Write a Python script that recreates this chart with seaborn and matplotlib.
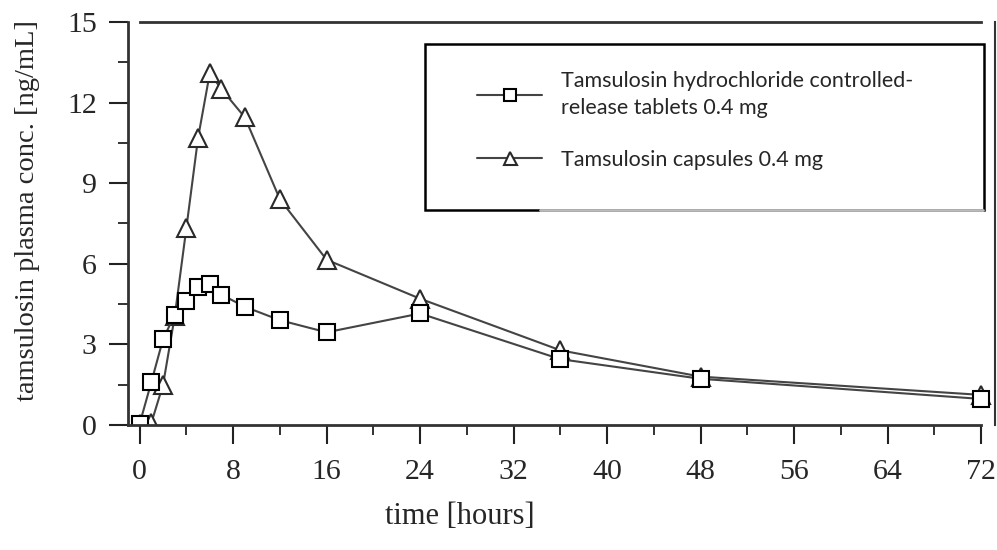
import numpy as np
import pandas as pd
import seaborn as sns
import matplotlib.pyplot as plt
from matplotlib.patches import Rectangle
from matplotlib.lines import Line2D
from matplotlib.ticker import MultipleLocator

# time points (hours)
hours = [0, 1, 2, 3, 4, 5, 6, 7, 9, 12, 16, 24, 36, 48, 72]
# plasma concentration [ng/mL]
tablets = [0.05, 1.6, 3.2, 4.1, 4.6, 5.15, 5.25, 4.85, 4.4, 3.9, 3.45, 4.15, 2.45, 1.72, 0.97]
capsules = [0.05, 0.08, 1.5, 4.05, 7.35, 10.7, 13.1, 12.5, 11.45, 8.4, 6.15, 4.7, 2.78, 1.8, 1.12]

lab_tab = "Tamsulosin hydrochloride controlled-\nrelease tablets 0.4 mg"
lab_cap = "Tamsulosin capsules 0.4 mg"

sns.set_style("white")
plt.rcParams['font.family'] = ['Liberation Serif', 'DejaVu Serif']

fig = plt.figure(figsize=(9.97, 5.5), dpi=100)
ax = fig.add_axes([0.1284, 0.2273, 0.8696, 0.7327])

line_col = '#444444'
# capsules first so the squares sit on top where they overlap
sns.lineplot(x=hours, y=capsules, ax=ax, color=line_col, linewidth=1.5,
             marker='^', markersize=13, markerfacecolor='white',
             markeredgecolor='#2a2a2a', markeredgewidth=1.5, label=lab_cap)
sns.lineplot(x=hours, y=tablets, ax=ax, color=line_col, linewidth=1.5,
             marker='s', markersize=11.5, markerfacecolor='white',
             markeredgecolor='black', markeredgewidth=1.5, label=lab_tab)

ax.set_xlim(-1, 73.2)
ax.set_ylim(0, 15)
ax.xaxis.set_major_locator(MultipleLocator(8))
ax.xaxis.set_minor_locator(MultipleLocator(4))
ax.yaxis.set_major_locator(MultipleLocator(3))
ax.yaxis.set_minor_locator(MultipleLocator(1.5))

for side in ['left', 'bottom', 'top', 'right']:
    ax.spines[side].set_color('#333333')
    ax.spines[side].set_linewidth(2)
ax.spines['bottom'].set_bounds(-1, 72)
ax.spines['top'].set_bounds(0, 72)
ax.spines['right'].set_linewidth(1.5)

ax.tick_params(which='major', direction='out', length=13.5, width=1.5,
               color='#222222', labelsize=21.5, bottom=True, left=True, top=False, right=False)
ax.tick_params(which='minor', direction='out', length=7, width=1.3,
               color='#222222', bottom=True, left=True, top=False, right=False)
ax.tick_params(axis='x', which='major', pad=11)
ax.tick_params(axis='y', which='major', pad=9)

ax.set_xlabel('time [hours]', fontsize=22)
ax.set_ylabel('tamsulosin plasma conc. [ng/mL]', fontsize=20.5)
ax.xaxis.set_label_coords(0.383, -0.19)
ax.yaxis.set_label_coords(-0.102, 0.533)

# legend box drawn separately, it is taller than its content
fig.patches.append(Rectangle((0.4263, 0.618), 0.5607, 0.302, transform=fig.transFigure,
                             fill=True, facecolor='white', edgecolor='black', linewidth=1.8, zorder=5))
fig.add_artist(Line2D([0.542, 0.986], [0.618, 0.618], transform=fig.transFigure,
                      color='#bbbbbb', linewidth=2, zorder=6))

handles, labels = ax.get_legend_handles_labels()
ax.get_legend().remove()
leg = fig.legend(handles[::-1], labels[::-1], loc='upper left',
                 bbox_to_anchor=(0.468, 0.89), frameon=False,
                 prop={'family': 'Lato', 'size': 15.5}, handlelength=3.0,
                 handletextpad=0.9, labelspacing=1.45, borderpad=0, markerscale=0.72)
leg.set_zorder(7)
for t in leg.get_texts():
    t.set_linespacing(1.45)

fig.savefig('out.png', dpi=100)
